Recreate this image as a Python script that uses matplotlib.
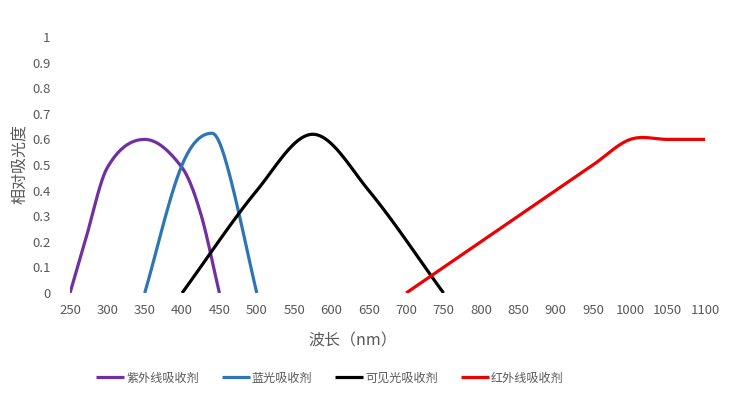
import numpy as np
import matplotlib
matplotlib.use("Agg")
import matplotlib.pyplot as plt

plt.rcParams['font.family'] = ['Noto Sans CJK SC', 'DejaVu Sans']

# Data (wavelength nm, relative absorbance)
uv_x = [250, 270, 300, 350, 400, 425, 450]
uv_y = [0.0, 0.2, 0.49, 0.6, 0.49, 0.31, 0.0]
blue_x = [350, 400, 440, 460, 500]
blue_y = [0.0, 0.5, 0.624, 0.5, 0.0]
vis_x = [400, 500, 575, 650, 750]
vis_y = [0.0, 0.4, 0.62, 0.4, 0.0]
ir_x = [700, 800, 900, 950, 1000, 1050, 1100]
ir_y = [0.0, 0.2, 0.4, 0.5, 0.6, 0.6, 0.6]

names = ['紫外线吸收剂', '蓝光吸收剂', '可见光吸收剂', '红外线吸收剂']
colors = ['#7030A0', '#2E75B6', '#000000', '#EE0000']
xticks = list(range(250, 1101, 50))
yticks = [0, 0.1, 0.2, 0.3, 0.4, 0.5, 0.6, 0.7, 0.8, 0.9, 1]
ytick_labels = ['0', '0.1', '0.2', '0.3', '0.4', '0.5', '0.6', '0.7', '0.8', '0.9', '1']


def smooth(xs, ys, n=30):
    """Smoothed line through the points: cubic Hermite in x with central-difference slopes."""
    x = np.asarray(xs, float)
    y = np.asarray(ys, float)
    m = np.empty_like(y)
    m[1:-1] = (y[2:] - y[:-2]) / (x[2:] - x[:-2])
    m[0] = (y[1] - y[0]) / (x[1] - x[0])
    m[-1] = (y[-1] - y[-2]) / (x[-1] - x[-2])
    ox, oy = [], []
    for i in range(len(x) - 1):
        h = x[i + 1] - x[i]
        t = np.linspace(0, 1, n)
        if i > 0:
            t = t[1:]
        h00 = 2 * t ** 3 - 3 * t ** 2 + 1
        h10 = t ** 3 - 2 * t ** 2 + t
        h01 = -2 * t ** 3 + 3 * t ** 2
        h11 = t ** 3 - t ** 2
        ox.append(x[i] + t * h)
        oy.append(h00 * y[i] + h10 * h * m[i] + h01 * y[i + 1] + h11 * h * m[i + 1])
    return np.concatenate(ox), np.concatenate(oy)


fig = plt.figure(figsize=(7.36, 3.97), dpi=100)
ax = fig.add_axes([70 / 736, 1 - 293 / 397, 635 / 736, 256 / 397])

series = [(uv_x, uv_y), (blue_x, blue_y), (vis_x, vis_y), (ir_x, ir_y)]
for (xs, ys), name, c in zip(series, names, colors):
    sx, sy = smooth(xs, ys)
    ax.plot(sx, sy, color=c, lw=2.3, label=name, solid_capstyle='butt')

ax.set_xlim(250, 1100)
ax.set_ylim(0, 1)
ax.set_xticks(xticks)
ax.set_xticklabels([str(v) for v in xticks])
ax.set_yticks(yticks)
ax.set_yticklabels(ytick_labels)
for s in ax.spines.values():
    s.set_visible(False)
ax.tick_params(axis='both', length=0, labelsize=9.5, colors='#595959')
ax.tick_params(axis='y', pad=14)
ax.tick_params(axis='x', pad=8)

ax.set_xlabel('波长（nm）', fontsize=11.5, color='#595959')
ax.xaxis.set_label_coords((353 - 70) / 635, (293 - 341) / 256)
ax.xaxis.label.set_va('center')
ax.set_ylabel('相对吸光度', fontsize=11.5, color='#595959')
ax.yaxis.set_label_coords((21 - 70) / 635, (293 - 164) / 256)
ax.yaxis.label.set_va('center')

leg = fig.legend(loc='center', bbox_to_anchor=(330 / 736, 1 - 378 / 397), ncol=4,
                 frameon=False, fontsize=8.7, handlelength=2.3, handletextpad=0.17,
                 columnspacing=1.9, borderpad=0, borderaxespad=0)
for t in leg.get_texts():
    t.set_color('#595959')

fig.savefig('out.png', dpi=100, facecolor='white')
